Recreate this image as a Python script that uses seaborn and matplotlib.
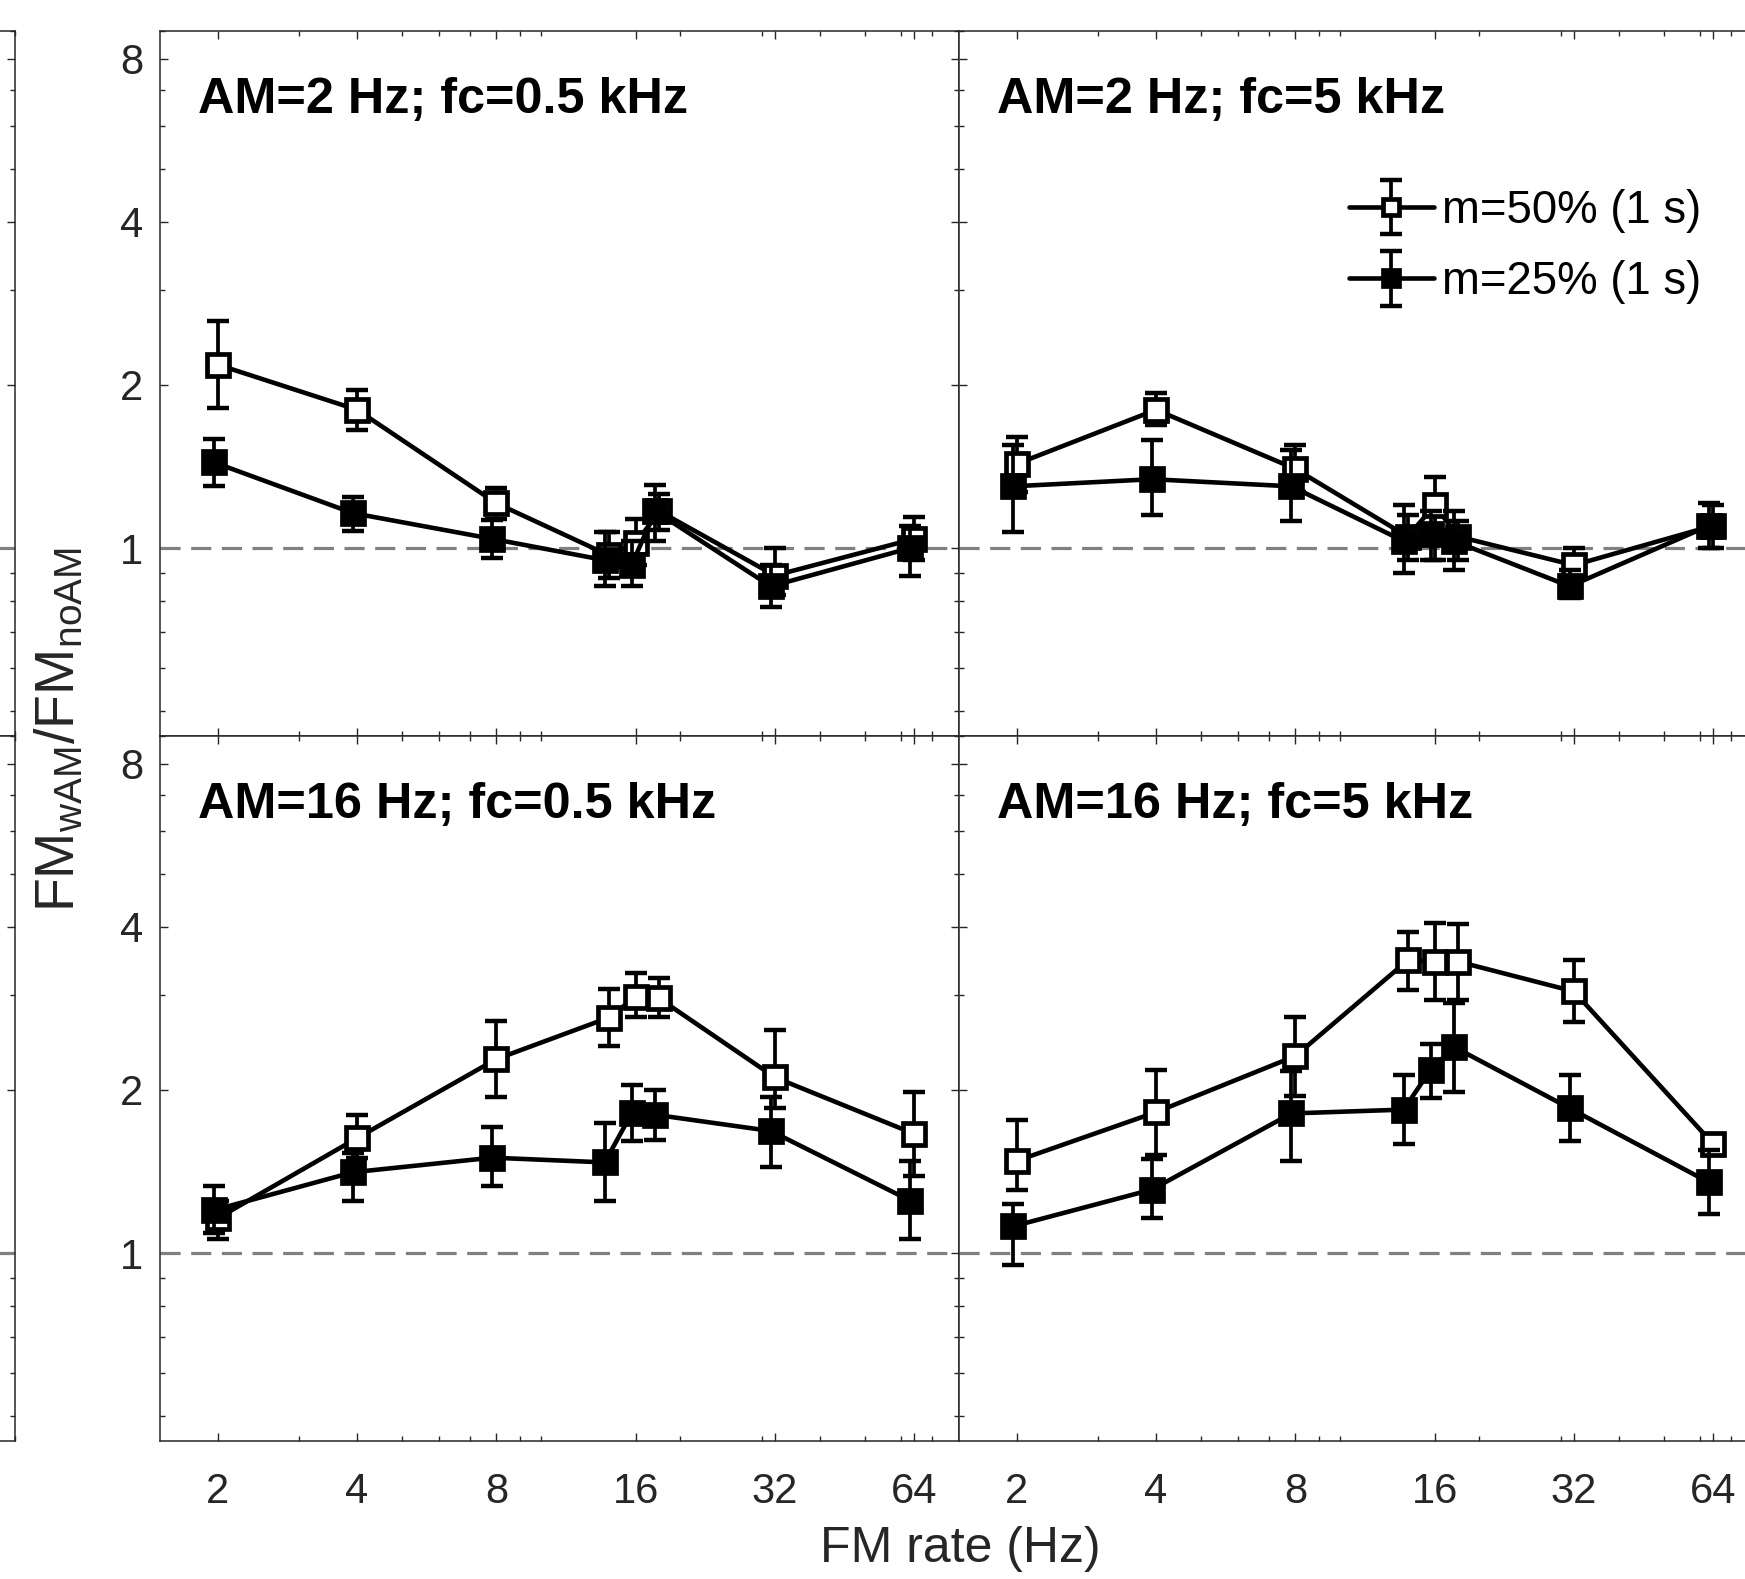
import numpy as np
import pandas as pd
import matplotlib
matplotlib.use("Agg")
import matplotlib.pyplot as plt
from matplotlib.container import ErrorbarContainer
from matplotlib.legend_handler import HandlerErrorbar
from matplotlib.ticker import LogLocator, NullFormatter
import seaborn as sns

# FM rates (Hz); the three points around 16 Hz are 14, 16 and 18 Hz
FM_RATES = [2, 4, 8, 14, 16, 18, 32, 64]
XTICKS = [2, 4, 8, 16, 32, 64]
YTICKS = [1, 2, 4, 8]
SHIFT_25 = 0.98  # m=25% symbols sit a touch left of the m=50% ones

TITLES = ["AM=2 Hz; fc=0.5 kHz", "AM=2 Hz; fc=5 kHz",
          "AM=16 Hz; fc=0.5 kHz", "AM=16 Hz; fc=5 kHz"]
LABELS = ["m=50% (1 s)", "m=25% (1 s)"]

# AM=2 Hz, fc=0.5 kHz
am2_f05_m50 = [2.18, 1.80, 1.21, 0.97, 1.02, 1.17, 0.89, 1.04]
am2_f05_m50_lo = [1.81, 1.65, 1.13, 0.88, 0.93, 1.08, 0.82, 0.95]
am2_f05_m50_hi = [2.63, 1.96, 1.29, 1.07, 1.13, 1.26, 1.00, 1.14]
am2_f05_m25 = [1.44, 1.16, 1.04, 0.95, 0.93, 1.17, 0.85, 1.00]
am2_f05_m25_lo = [1.30, 1.075, 0.96, 0.85, 0.85, 1.03, 0.78, 0.89]
am2_f05_m25_hi = [1.59, 1.24, 1.125, 1.07, 1.03, 1.31, 0.93, 1.10]

# AM=2 Hz, fc=5 kHz
am2_f5_m50 = [1.43, 1.80, 1.40, 1.05, 1.20, 1.05, 0.93, 1.10]
am2_f5_m50_lo = [1.27, 1.69, 1.27, 0.95, 0.95, 0.95, 0.88, 1.00]
am2_f5_m50_hi = [1.60, 1.93, 1.55, 1.15, 1.35, 1.12, 1.00, 1.20]
am2_f5_m25 = [1.30, 1.34, 1.30, 1.03, 1.06, 1.03, 0.85, 1.10]
am2_f5_m25_lo = [1.07, 1.15, 1.12, 0.90, 0.95, 0.91, 0.81, 1.00]
am2_f5_m25_hi = [1.55, 1.58, 1.52, 1.20, 1.17, 1.17, 0.91, 1.21]

# AM=16 Hz, fc=0.5 kHz
am16_f05_m50 = [1.16, 1.63, 2.28, 2.72, 2.97, 2.95, 2.11, 1.66]
am16_f05_m50_lo = [1.06, 1.50, 1.94, 2.41, 2.73, 2.73, 1.85, 1.39]
am16_f05_m50_hi = [1.25, 1.80, 2.68, 3.07, 3.29, 3.22, 2.58, 1.98]
am16_f05_m25 = [1.20, 1.41, 1.50, 1.47, 1.81, 1.80, 1.68, 1.25]
am16_f05_m25_lo = [1.09, 1.25, 1.33, 1.25, 1.61, 1.62, 1.44, 1.06]
am16_f05_m25_hi = [1.33, 1.53, 1.71, 1.74, 2.04, 2.00, 1.94, 1.48]

# AM=16 Hz, fc=5 kHz
am16_f5_m50 = [1.48, 1.82, 2.31, 3.47, 3.45, 3.45, 3.04, 1.59]
am16_f5_m50_lo = [1.31, 1.52, 1.95, 3.06, 2.93, 2.93, 2.67, 1.52]
am16_f5_m50_hi = [1.76, 2.18, 2.73, 3.92, 4.06, 4.05, 3.47, 1.65]
am16_f5_m25 = [1.12, 1.31, 1.81, 1.84, 2.18, 2.40, 1.85, 1.35]
am16_f5_m25_lo = [0.95, 1.16, 1.48, 1.59, 1.93, 1.98, 1.61, 1.18]
am16_f5_m25_hi = [1.23, 1.49, 2.17, 2.13, 2.43, 2.90, 2.13, 1.55]

panel_data = [
    [(am2_f05_m50, am2_f05_m50_lo, am2_f05_m50_hi), (am2_f05_m25, am2_f05_m25_lo, am2_f05_m25_hi)],
    [(am2_f5_m50, am2_f5_m50_lo, am2_f5_m50_hi), (am2_f5_m25, am2_f5_m25_lo, am2_f5_m25_hi)],
    [(am16_f05_m50, am16_f05_m50_lo, am16_f05_m50_hi), (am16_f05_m25, am16_f05_m25_lo, am16_f05_m25_hi)],
    [(am16_f5_m50, am16_f5_m50_lo, am16_f5_m50_hi), (am16_f5_m25, am16_f5_m25_lo, am16_f5_m25_hi)],
]

sns.set_theme(style="ticks")
plt.rcParams["font.family"] = ["Liberation Sans", "DejaVu Sans"]
plt.rcParams["mathtext.fontset"] = "custom"
plt.rcParams["mathtext.rm"] = "Liberation Sans"
plt.rcParams["mathtext.default"] = "rm"

W, H = 1745, 1579
fig = plt.figure(figsize=(W / 100, H / 100), dpi=100)
TICK = "#262626"


def add_px_axes(left, top, width, height):
    return fig.add_axes([left / W, 1 - (top + height) / H, width / W, height / H])


def style_axes(ax, xlabels, ylabels):
    ax.set_xscale("log")
    ax.set_yscale("log")
    ax.set_xlim(1.5, 80)
    ax.set_ylim(0.45, 9)
    ax.set_xticks(XTICKS, labels=[str(t) for t in XTICKS])
    ax.set_yticks(YTICKS, labels=[str(t) for t in YTICKS])
    ax.xaxis.set_minor_locator(LogLocator(base=10, subs=np.arange(1, 10)))
    ax.yaxis.set_minor_locator(LogLocator(base=10, subs=np.arange(1, 10)))
    ax.xaxis.set_minor_formatter(NullFormatter())
    ax.yaxis.set_minor_formatter(NullFormatter())
    ax.tick_params(which="both", direction="in", top=True, right=True,
                   color=TICK, width=1.0, labelcolor=TICK, labelsize=30,
                   labelbottom=xlabels, labelleft=ylabels)
    ax.tick_params(which="major", length=5.8)
    ax.tick_params(which="minor", length=3.6)
    ax.tick_params(axis="x", pad=22)
    ax.tick_params(axis="y", pad=12)
    for sp in ax.spines.values():
        sp.set_color(TICK)
        sp.set_linewidth(1.1)
    ax.axhline(1, color="#808080", linewidth=2.3, dashes=(6.3, 3.3), zorder=1)
    ax.set_xlabel("")
    ax.set_ylabel("")


PW, PH = 799, 705
COLS = [160, 959]
ROWS = [31, 736]

# neighbouring panels that are cut off at the left edge
for top in ROWS:
    side = add_px_axes(15 - PW, top, PW, PH)
    style_axes(side, False, False)

legend_handles = []
for i, (title, series) in enumerate(zip(TITLES, panel_data)):
    r, c = divmod(i, 2)
    ax = add_px_axes(COLS[c], ROWS[r], PW, PH)
    style_axes(ax, xlabels=(r == 1), ylabels=(c == 0))

    for k, ((vals, lo, hi), face) in enumerate(zip(series, ["white", "black"])):
        shift = 1.0 if k == 0 else SHIFT_25
        x = np.array(FM_RATES, dtype=float) * shift
        v = np.array(vals)
        yerr = [v - np.array(lo), np.array(hi) - v]
        eb = ax.errorbar(x, v, yerr=yerr, fmt="none", ecolor="black",
                         elinewidth=2.7, capsize=8, capthick=3.2, zorder=3 + 2 * k)
        df = pd.DataFrame({"rate": x, "ratio": v})
        sns.lineplot(data=df, x="rate", y="ratio", ax=ax, color="black",
                     linewidth=3.3, marker="s", markersize=16.5,
                     markerfacecolor=face, markeredgecolor="black",
                     markeredgewidth=3.4, errorbar=None, zorder=4 + 2 * k)
        line = ax.lines[-1]
        if i == 1:
            legend_handles.append(ErrorbarContainer(
                (line, eb.lines[1], eb.lines[2]), has_xerr=False, has_yerr=True,
                label=LABELS[k]))
    ax.set_xlabel("")
    ax.set_ylabel("")
    ax.text(0.0476, 0.883, title, transform=ax.transAxes, fontsize=36.3,
            fontweight="bold", ha="left", va="baseline", color="black")

    if i == 1:
        ax.legend(handles=legend_handles, labels=LABELS,
                  handler_map={ErrorbarContainer: HandlerErrorbar(yerr_size=0.6)},
                  loc="upper left", bbox_to_anchor=(0.488, 0.776),
                  frameon=False, fontsize=32.8, handlelength=1.86,
                  handletextpad=0.18, labelspacing=0.6, markerscale=0.68,
                  borderpad=0, borderaxespad=0, labelcolor="black")

fig.text(960 / W, 1 - 1562 / H, "FM rate (Hz)", fontsize=36, color=TICK,
         ha="center", va="baseline")
fig.text(60 / W, 1 - 730 / H, r"FM$_{\mathrm{wAM}}$/FM$_{\mathrm{noAM}}$",
         fontsize=40, color=TICK, rotation=90, ha="center", va="center")

fig.savefig("out.png", dpi=100, facecolor="white")
